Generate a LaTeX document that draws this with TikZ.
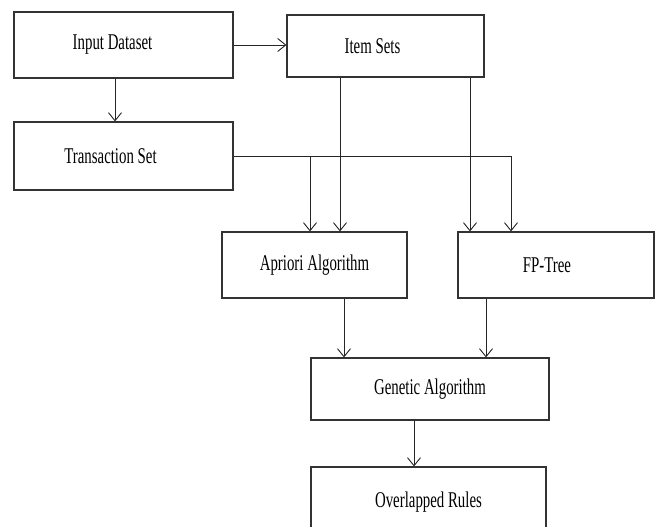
\documentclass[tikz,border=0pt]{standalone}
\usepackage{graphicx}
\usepackage{fontspec}
\setmainfont{Liberation Serif}
\usetikzlibrary{arrows.meta}

% label squeezed like the original; the optional space moves it left
\newcommand{\boxtxt}[2][0pt]{\scalebox{0.66}[1]{#2}\hspace*{#1}}

\tikzset{
    blk/.style 2 args={draw=black!80, line width=1.2pt, rectangle,
        minimum width=#1pt, minimum height=#2pt, inner sep=0pt,
        font=\fontsize{22.5}{22.5}\selectfont},
    conn/.style={black!85, line width=0.9pt}
}

\begin{document}
\begin{tikzpicture}[x=1pt,y=-1pt,>={Straight Barb[length=8pt,width=13pt]}]
    \useasboundingbox (0,0) rectangle (662,527);
    \clip (0,0) rectangle (662,527);

    \node[blk={219}{66}] (input) at (123.5,45) {\boxtxt[22pt]{Input Dataset}};
    \node[blk={197}{62}] (items) at (385.5,46) {\boxtxt[26pt]{Item Sets}};
    \node[blk={219}{68}] (trans) at (123.5,156) {\boxtxt[26pt]{Transaction Set}};
    \node[blk={185}{66}] (apriori) at (314.5,265) {\boxtxt{Apriori Algorithm}};
    \node[blk={196}{66}] (fptree) at (556,265) {\boxtxt[18pt]{FP-Tree}};
    \node[blk={238}{62}] (genetic) at (430,389) {\boxtxt{Genetic Algorithm}};
    \node[blk={235}{70}] (rules) at (428.5,502) {\boxtxt{Overlapped Rules}};

    \draw [->,conn] (input.east) -- (input.east -| items.west);
    \draw [->,conn] ([xshift=-8.5pt]input.south) -- ([xshift=-8.5pt]trans.north);

    \draw [->,conn] (trans.east) -| ([xshift=-45pt]fptree.north);
    \draw [->,conn] ([xshift=-4.5pt]apriori.north |- trans.east) -- ([xshift=-4.5pt]apriori.north);
    \draw [->,conn] ([xshift=-45.5pt]items.south) -- ([xshift=25.5pt]apriori.north);
    \draw [->,conn] ([xshift=84.5pt]items.south) -- ([xshift=-86pt]fptree.north);

    \draw [->,conn] ([xshift=29.5pt]apriori.south) -- ([xshift=-86pt]genetic.north);
    \draw [->,conn] ([xshift=-70pt]fptree.south) -- ([xshift=56pt]genetic.north);
    \draw [->,conn] ([xshift=-16pt]genetic.south) -- ([xshift=-14.5pt]rules.north);

    \end{tikzpicture}
\end{document}
